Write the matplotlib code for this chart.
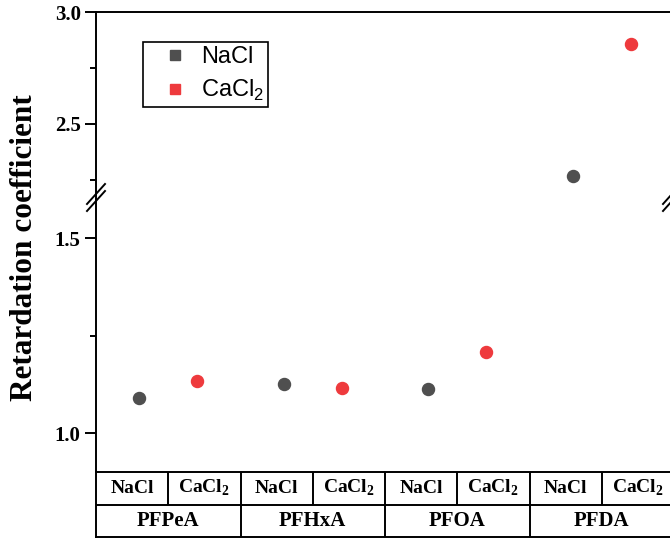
import matplotlib.pyplot as plt
import matplotlib
from matplotlib.lines import Line2D
import numpy as np

matplotlib.rcParams.update({
    "font.family": "Liberation Serif", "font.weight": "bold", "font.size": 12,
    "axes.linewidth": 1.4,
})

# --- data ---
compounds = ["PFPeA", "PFHxA", "PFOA", "PFDA"]
salts = ["NaCl", "CaCl$_\\mathregular{2}$"]
nacl = [1.09, 1.126, 1.113, 2.265]
cacl2 = [1.133, 1.115, 1.208, 2.857]

W, H = 670, 539
fig = plt.figure(figsize=(W / 100, H / 100), dpi=100)

def fbox(x0, y0, x1, y1):
    # pixel box -> figure fraction [left, bottom, width, height]
    return [x0 / W, 1 - y1 / H, (x1 - x0) / W, (y1 - y0) / H]

x_left, x_right = 96, 674
ax_top = fig.add_axes(fbox(x_left, 12, x_right, 191))
ax_bot = fig.add_axes(fbox(x_left, 199, x_right, 472))
ax_tab = fig.add_axes(fbox(x_left, 472, x_right, 537))

x_na = np.arange(len(compounds)) * 2 + 0.6
x_ca = np.arange(len(compounds)) * 2 + 1.4

for ax in (ax_top, ax_bot):
    ax.scatter(x_na, nacl, s=75, marker="o", color="#4f4f4f", zorder=3)
    ax.scatter(x_ca, cacl2, s=75, marker="o", color="#ee3a3d", zorder=3)
    ax.set_xlim(0, 8)
    ax.set_xticks([])
    ax.tick_params(axis="y", which="major", direction="out", length=8, width=1.4,
                   pad=3, labelsize=15)
    ax.tick_params(axis="y", which="minor", direction="out", length=4, width=1.4)

ax_top.set_ylim(2.2, 3.0)
ax_top.set_yticks([2.5, 3.0])
ax_top.set_yticks([2.25, 2.75], minor=True)
ax_top.spines["bottom"].set_visible(False)

ax_bot.set_ylim(0.9, 1.6)
ax_bot.set_yticks([1.0, 1.5])
ax_bot.set_yticks([1.25], minor=True)
ax_bot.spines["top"].set_visible(False)
ax_bot.spines["bottom"].set_visible(False)

for ax in (ax_top, ax_bot):
    for lab in ax.get_yticklabels():
        lab.set_fontweight("bold")

# spine continues through the gap, with break marks
for xp in (x_left, x_right - 2):
    fig.add_artist(Line2D([xp / W, xp / W], [1 - 191 / H, 1 - 199 / H],
                          color="black", lw=1.4))
    for dy in (0, 7):
        fig.add_artist(Line2D([(xp - 9) / W, (xp + 9) / W],
                              [1 - (204 + dy) / H, 1 - (184 + dy) / H],
                              color="black", lw=1.4))

# legend
handles = [Line2D([], [], marker="s", ls="none", color="#4f4f4f", markersize=7),
           Line2D([], [], marker="s", ls="none", color="#ee3a3d", markersize=7)]
leg = ax_top.legend(handles, salts, loc="upper left",
                    bbox_to_anchor=(0.081, 0.832), borderaxespad=0,
                    frameon=True, fancybox=False,
                    edgecolor="black", handletextpad=-0.12, borderpad=0.18,
                    labelspacing=0.4, handlelength=2.4,
                    prop={"family": "Liberation Sans", "size": 17, "weight": "normal"})
leg.get_frame().set_linewidth(1.2)
leg.get_frame().set_alpha(None)

fig.text(25 / W, 1 - 248 / H, "Retardation coefficient", rotation=90,
         ha="center", va="center", fontsize=22.5, fontweight="bold")

# table under the axis
ax_tab.set_xlim(0, 8)
ax_tab.set_ylim(0, 2)
ax_tab.set_xticks([])
ax_tab.set_yticks([])
ax_tab.axhline(1, color="black", lw=1.4)
ax_tab.vlines(np.arange(1, 8, 2), 1, 2, color="black", lw=1.4)
ax_tab.vlines(np.arange(2, 8, 2), 0, 2, color="black", lw=1.4)
for i, comp in enumerate(compounds):
    ax_tab.text(2 * i + 1, 0.5, comp, ha="center", va="center", fontsize=15,
                fontweight="bold")
    for j, salt in enumerate(salts):
        ax_tab.text(2 * i + j + 0.5, 1.5, salt, ha="center", va="center",
                    fontsize=14, fontweight="bold")

fig.savefig("out.png", dpi=100)
